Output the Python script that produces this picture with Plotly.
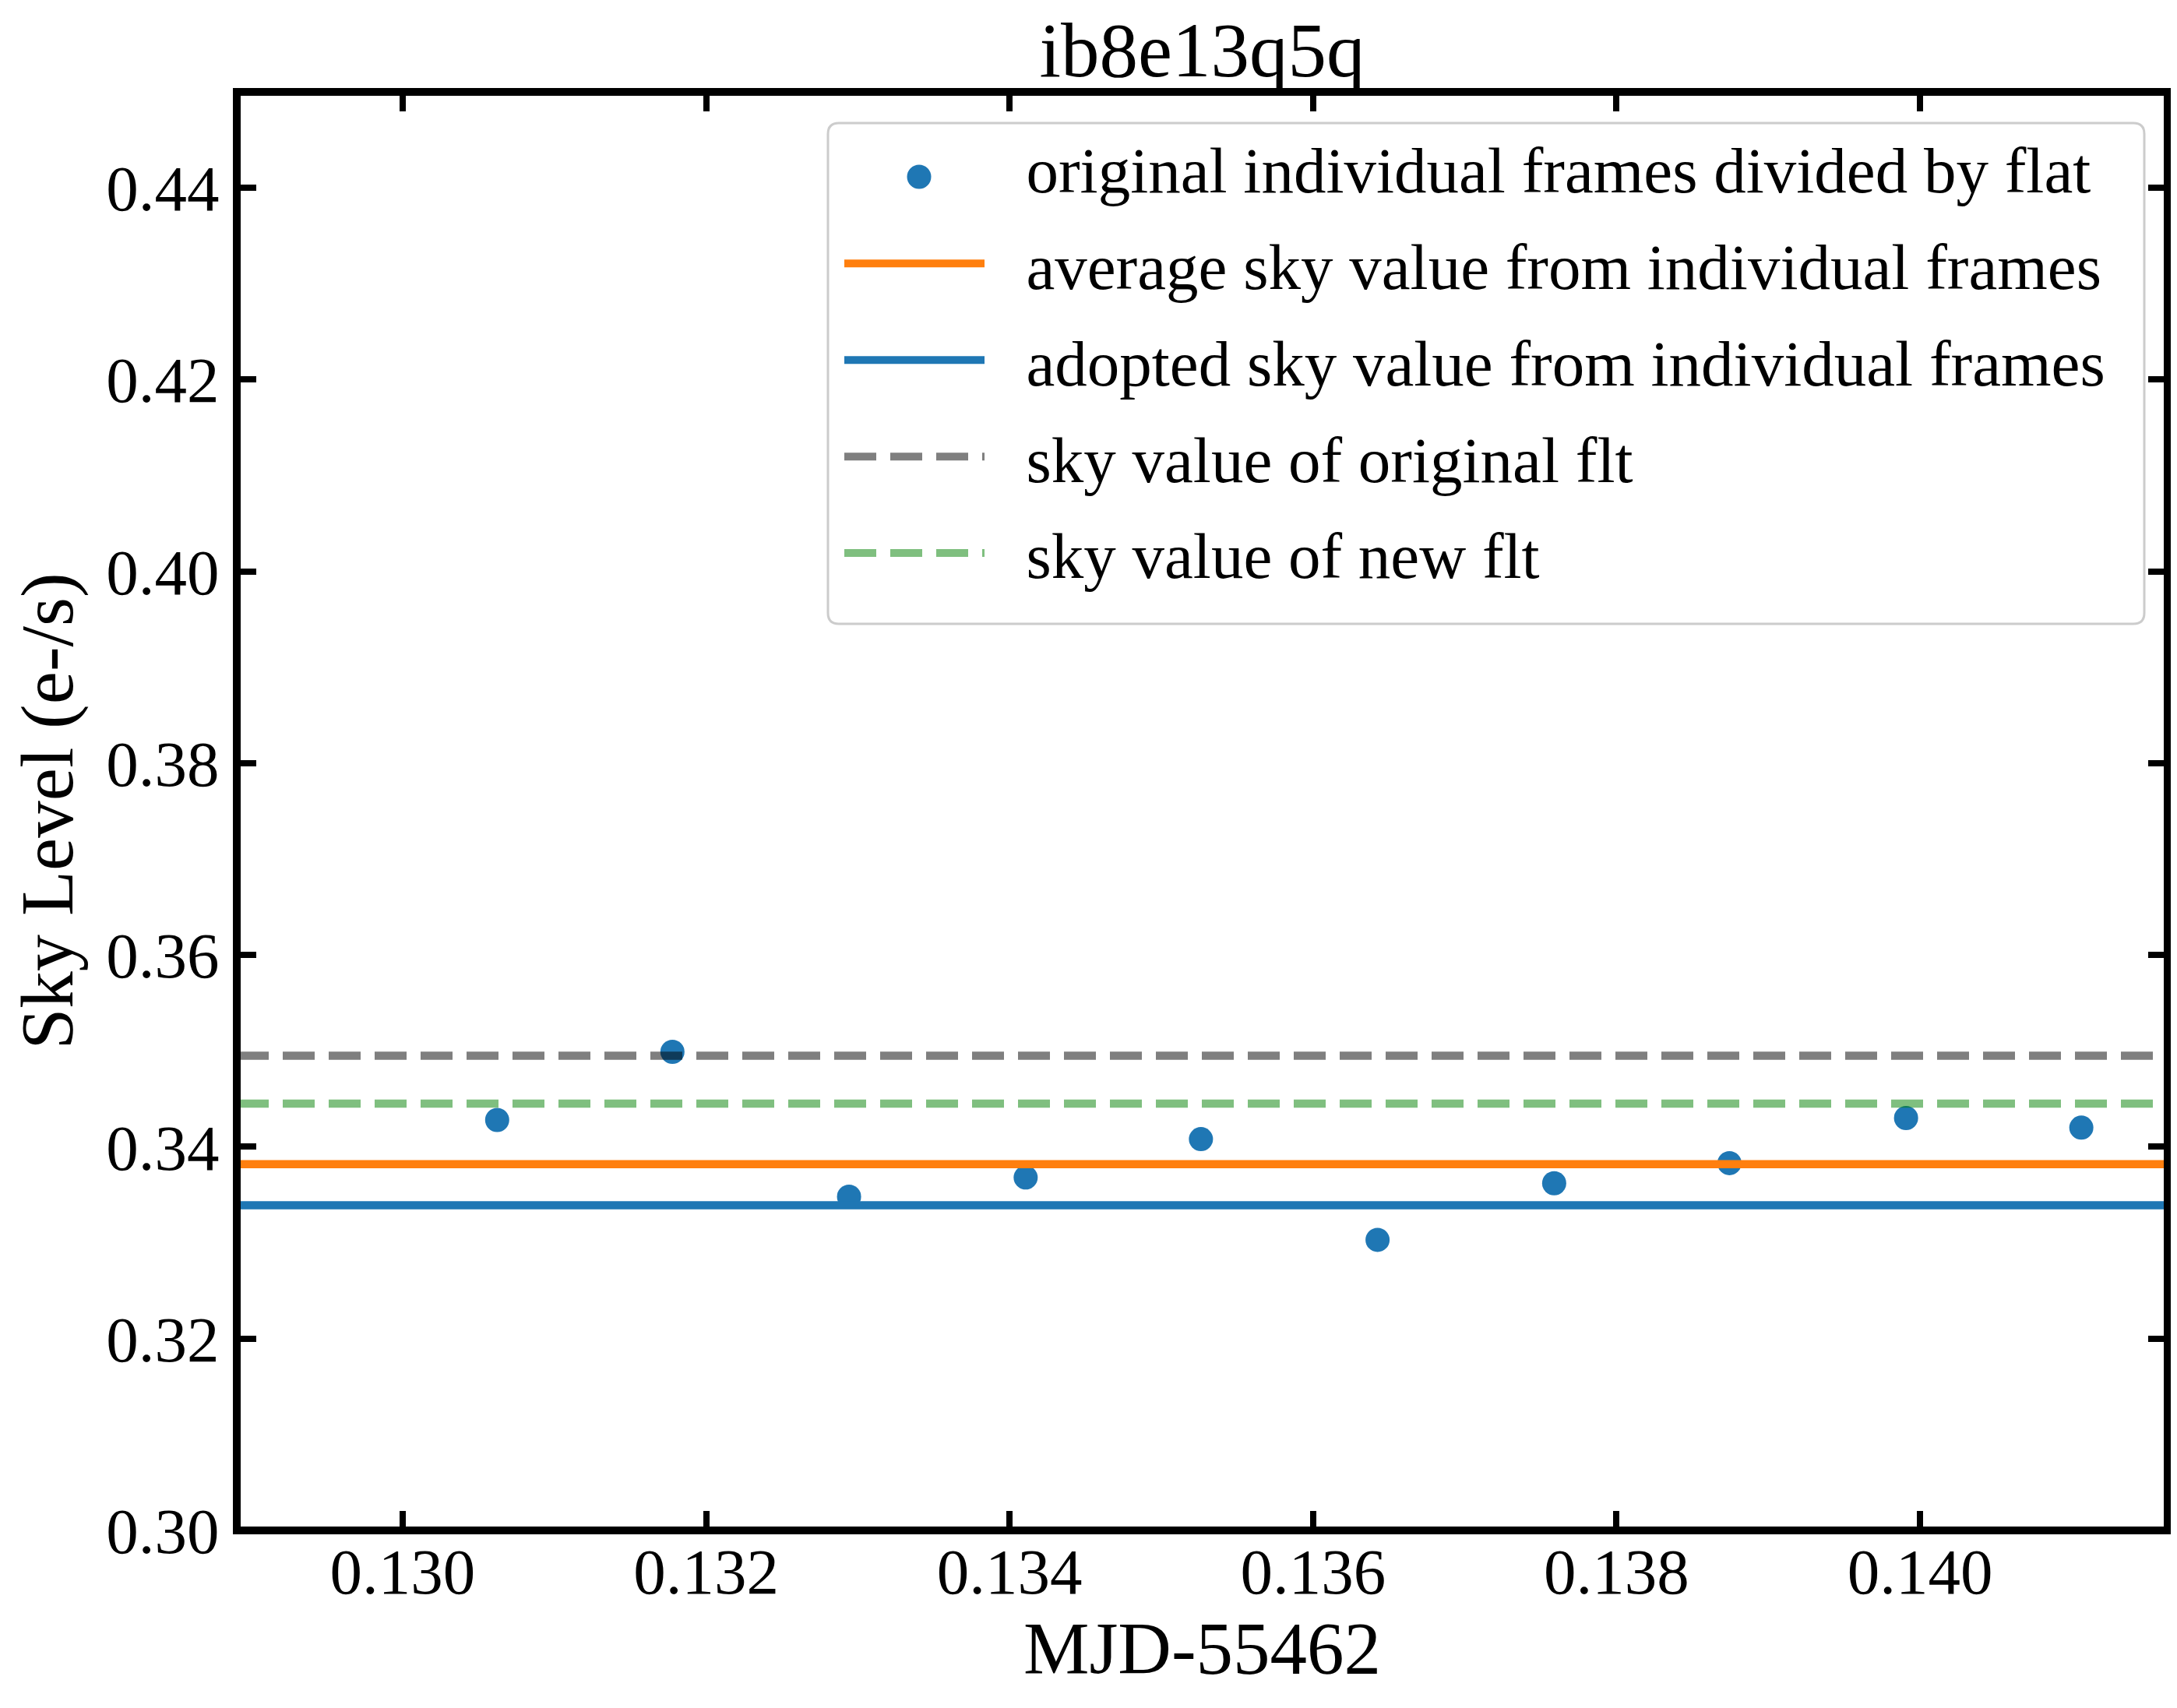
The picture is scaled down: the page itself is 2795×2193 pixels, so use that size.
import plotly.graph_objects as go

# ---- data ----
mjd = [0.130623, 0.131778, 0.132942, 0.134106, 0.135261,
       0.136425, 0.137589, 0.138744, 0.139908, 0.141063]
sky = [0.3428, 0.3499, 0.3348, 0.3368, 0.3408,
       0.3303, 0.3362, 0.3383, 0.3430, 0.3420]
avg_sky = 0.3382
adopted_sky = 0.3339
orig_flt_sky = 0.3495
new_flt_sky = 0.3445

x_lim = [0.128907, 0.141632]
y_lim = [0.30, 0.45]
x_ticks = [0.130, 0.132, 0.134, 0.136, 0.138, 0.140]
y_ticks = [0.30, 0.32, 0.34, 0.36, 0.38, 0.40, 0.42, 0.44]

labels = ["original individual frames divided by flat",
          "average sky value from individual frames",
          "adopted sky value from individual frames",
          "sky value of original flt",
          "sky value of new flt"]

FONT = "Liberation Serif, Times New Roman, serif"
W, H = 2795, 2193
ML, MR, MT, MB = 296, 20, 110, 236
PW, PH = W - ML - MR, H - MT - MB


def px_to_paper(px, py):
    """pixel position in the page -> paper coordinates"""
    return (px - ML) / PW, (H - MB - py) / PH


PAD = "\u2002\u200a"  # gap between legend sample and text

fig = go.Figure()
# data points (legend entry provided by a separate entry below)
fig.add_trace(go.Scatter(x=mjd, y=sky, mode="markers", name=labels[0], showlegend=False,
                         marker=dict(color="#1f77b4", size=31, line=dict(width=0))))
fig.add_trace(go.Scatter(x=[None], y=[None], mode="markers", name=PAD + labels[0],
                         legendgroup="g0",
                         marker=dict(color="rgba(0,0,0,0)", size=2, opacity=0,
                                     line=dict(width=0))))
line_specs = [(avg_sky, "#ff7f0e", "solid", labels[1]),
              (adopted_sky, "#1f77b4", "solid", labels[2]),
              (orig_flt_sky, "rgba(0,0,0,0.5)", "41px,18px", labels[3]),
              (new_flt_sky, "rgba(0,128,0,0.5)", "41px,18px", labels[4])]
for i, (val, col, dash, name) in enumerate(line_specs):
    fig.add_trace(go.Scatter(x=x_lim, y=[val, val], mode="lines", name=PAD + name,
                             legendgroup="g%d" % (i + 1),
                             line=dict(color=col, width=10.5, dash=dash)))

axis_common = dict(showgrid=False, zeroline=False, showline=True, linewidth=1,
                   linecolor="black", mirror="ticks", ticks="inside", ticklen=25,
                   tickwidth=8, tickcolor="black",
                   tickfont=dict(family=FONT, size=83, color="black"))

fig.update_xaxes(range=x_lim, tickvals=x_ticks, tickformat=".3f",
                 title=dict(text="MJD-55462", font=dict(family=FONT, size=95, color="black"),
                            standoff=18),
                 ticklabelstandoff=-20, **axis_common)
fig.update_yaxes(range=y_lim, tickvals=y_ticks, tickformat=".2f",
                 title=dict(text="Sky Level (e-/s)", font=dict(family=FONT, size=95, color="black"),
                            standoff=58),
                 ticklabelstandoff=5, **axis_common)

# legend frame (rounded box) behind the legend entries
bx0, by0 = px_to_paper(1055, 793)
bx1, by1 = px_to_paper(2745, 150)
rx, ry = 14 / PW, 14 / PH
box_path = (f"M{bx0 + rx},{by1} L{bx1 - rx},{by1} Q{bx1},{by1} {bx1},{by1 - ry} "
            f"L{bx1},{by0 + ry} Q{bx1},{by0} {bx1 - rx},{by0} L{bx0 + rx},{by0} "
            f"Q{bx0},{by0} {bx0},{by0 + ry} L{bx0},{by1 - ry} Q{bx0},{by1} {bx0 + rx},{by1} Z")
fig.add_shape(type="path", xref="paper", yref="paper", path=box_path,
              line=dict(color="#cccccc", width=3), fillcolor="rgba(255,255,255,0.8)",
              layer="above")
# legend marker glyph for the points entry
mx, my = px_to_paper(1172, 219)
fig.add_shape(type="circle", xref="paper", yref="paper",
              x0=mx - 15.5 / PW, x1=mx + 15.5 / PW, y0=my - 15.5 / PH, y1=my + 15.5 / PH,
              line=dict(width=0), fillcolor="#1f77b4", layer="above")

# axes frame
fig.add_shape(type="rect", xref="paper", yref="paper", x0=0, x1=1, y0=0, y1=1,
              line=dict(color="black", width=10), fillcolor="rgba(0,0,0,0)", layer="above")

lx, ly = px_to_paper(1071, 146)
fig.update_layout(
    width=W, height=H,
    margin=dict(l=ML, r=MR, t=MT, b=MB, autoexpand=False),
    paper_bgcolor="white", plot_bgcolor="white",
    font=dict(family=FONT, color="black"),
    title=dict(text="ib8e13q5q", font=dict(family=FONT, size=99, color="black"),
               x=0.5, xref="paper", xanchor="center",
               y=1 - 55 / H, yref="container", yanchor="middle"),
    legend=dict(x=lx, y=ly, xanchor="left", yanchor="top",
                bgcolor="rgba(0,0,0,0)", borderwidth=0,
                font=dict(family=FONT, size=83, color="black"),
                itemwidth=180, tracegroupgap=13, traceorder="grouped"),
    showlegend=True,
)

fig.write_html("out.html")
